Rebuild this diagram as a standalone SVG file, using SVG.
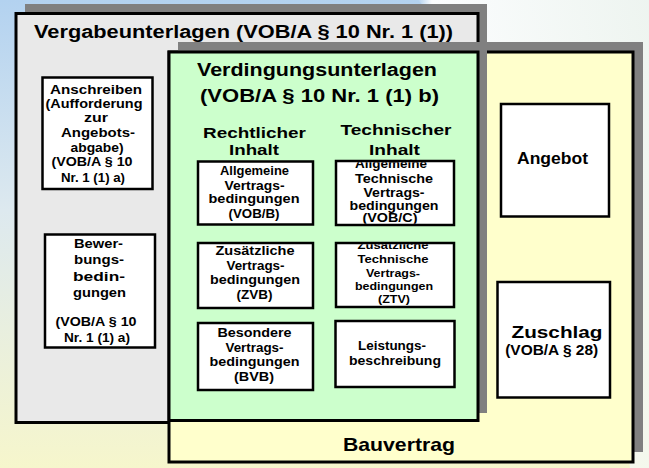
<svg xmlns="http://www.w3.org/2000/svg" width="649" height="468" viewBox="0 0 649 468">
<style>
text{font-family:"Liberation Sans",Arial,sans-serif;font-weight:bold;fill:#000;text-anchor:middle}
.shadow{fill:#808080}
.big{stroke:#000;stroke-width:3}
.box{fill:#fff;stroke:#000;stroke-width:2.5}
.t18{font-size:17.5px}
.t14{font-size:14.5px}
.t12{font-size:13px}
.t11{font-size:12px}
.t10{font-size:10.5px}
</style>
<defs>
<linearGradient id="bg" x1="0" y1="0" x2="0" y2="1">
<stop offset="0" stop-color="#b3d2f0"/>
<stop offset="0.45" stop-color="#dde9ef"/>
<stop offset="1" stop-color="#f6f6cc"/>
</linearGradient>
<linearGradient id="wh" x1="0" y1="0" x2="1" y2="0">
<stop offset="0" stop-color="#ffffff" stop-opacity="0"/>
<stop offset="0.06" stop-color="#ffffff" stop-opacity="0.95"/>
<stop offset="1" stop-color="#f4f8f0" stop-opacity="0.9"/>
</linearGradient>
<clipPath id="cD"><rect x="337.3" y="162.3" width="115.5" height="61.5"/></clipPath>
<clipPath id="cE"><rect x="337.3" y="244.3" width="115.5" height="61.5"/></clipPath>
</defs>
<rect x="0" y="0" width="649" height="468" fill="url(#bg)"/>
<polygon points="418,0 649,0 649,468 630,468 600,200" fill="url(#wh)"/>

<g id="vergabeunterlagen">
<rect class="shadow" x="25" y="4" width="462" height="408"/>
<rect class="big" x="16" y="13.5" width="462" height="409" fill="#e9e9e9"/>
<text class="t18" x="243.5" y="37.5" textLength="419" lengthAdjust="spacingAndGlyphs">Vergabeunterlagen (VOB/A § 10 Nr. 1 (1))</text>
</g>

<g id="bauvertrag">
<rect class="shadow" x="178" y="42" width="465" height="410"/>
<rect class="big" x="169" y="52" width="464" height="410" fill="#ffffcc"/>
<text style="font-size:18.5px" x="399" y="450.5" textLength="112" lengthAdjust="spacingAndGlyphs">Bauvertrag</text>
</g>

<g id="verdingungsunterlagen">
<rect class="shadow" x="178" y="42" width="309" height="371"/>
<rect class="big" x="169" y="52" width="309" height="368.5" fill="#ccffcc"/>
<text class="t18" x="317" y="76" textLength="240" lengthAdjust="spacingAndGlyphs">Verdingungsunterlagen</text>
<text class="t18" x="319.5" y="101.5" textLength="239" lengthAdjust="spacingAndGlyphs">(VOB/A § 10 Nr. 1 (1) b)</text>
<text class="t14" x="254.5" y="137.7" textLength="103" lengthAdjust="spacingAndGlyphs">Rechtlicher</text>
<text class="t14" x="254" y="155" textLength="50" lengthAdjust="spacingAndGlyphs">Inhalt</text>
<text class="t14" x="396" y="135" textLength="111" lengthAdjust="spacingAndGlyphs">Technischer</text>
<text class="t14" x="394.5" y="155" textLength="51" lengthAdjust="spacingAndGlyphs">Inhalt</text>
</g>

<g id="anschreiben">
<rect class="box" x="42.5" y="77.5" width="110" height="111.5"/>
<text class="t12" x="96" y="93.5" textLength="92" lengthAdjust="spacingAndGlyphs">Anschreiben</text>
<text class="t12" x="94" y="107.5" textLength="97" lengthAdjust="spacingAndGlyphs">(Aufforderung</text>
<text class="t12" x="96" y="121.5" textLength="24" lengthAdjust="spacingAndGlyphs">zur</text>
<text class="t12" x="98" y="137" textLength="74" lengthAdjust="spacingAndGlyphs">Angebots-</text>
<text class="t12" x="97" y="151.5" textLength="53" lengthAdjust="spacingAndGlyphs">abgabe)</text>
<text class="t12" x="92" y="166" textLength="81" lengthAdjust="spacingAndGlyphs">(VOB/A § 10</text>
<text class="t12" x="93" y="181.5" textLength="64" lengthAdjust="spacingAndGlyphs">Nr. 1 (1) a)</text>
</g>

<g id="bewerbungsbedingungen">
<rect class="box" x="45" y="234.5" width="110" height="113"/>
<text class="t12" x="98.5" y="247.5" textLength="49" lengthAdjust="spacingAndGlyphs">Bewer-</text>
<text class="t12" x="99" y="264" textLength="50" lengthAdjust="spacingAndGlyphs">bungs-</text>
<text class="t12" x="99" y="280.5" textLength="52" lengthAdjust="spacingAndGlyphs">bedin-</text>
<text class="t12" x="99.5" y="297" textLength="53" lengthAdjust="spacingAndGlyphs">gungen</text>
<text class="t12" x="96" y="326" textLength="81" lengthAdjust="spacingAndGlyphs">(VOB/A § 10</text>
<text class="t12" x="97" y="341.7" textLength="66" lengthAdjust="spacingAndGlyphs">Nr. 1 (1) a)</text>
</g>

<g id="vob-b">
<rect class="box" x="198" y="161.5" width="115" height="63"/>
<text class="t12" x="254.5" y="175" textLength="69" lengthAdjust="spacingAndGlyphs">Allgemeine</text>
<text class="t12" x="254.5" y="189.5" textLength="60" lengthAdjust="spacingAndGlyphs">Vertrags-</text>
<text class="t12" x="254" y="203.3" textLength="91" lengthAdjust="spacingAndGlyphs">bedingungen</text>
<text class="t12" x="254" y="218.3" textLength="51" lengthAdjust="spacingAndGlyphs">(VOB/B)</text>
</g>

<g id="zvb">
<rect class="box" x="198" y="243" width="115" height="65"/>
<text class="t12" x="255" y="255" textLength="79" lengthAdjust="spacingAndGlyphs">Zusätzliche</text>
<text class="t12" x="255.5" y="270" textLength="58" lengthAdjust="spacingAndGlyphs">Vertrags-</text>
<text class="t12" x="255" y="284" textLength="90" lengthAdjust="spacingAndGlyphs">bedingungen</text>
<text class="t12" x="254.5" y="299" textLength="36" lengthAdjust="spacingAndGlyphs">(ZVB)</text>
</g>

<g id="bvb">
<rect class="box" x="198" y="323" width="115" height="67"/>
<text class="t12" x="254.5" y="336.7" textLength="74" lengthAdjust="spacingAndGlyphs">Besondere</text>
<text class="t12" x="254.5" y="351.7" textLength="58" lengthAdjust="spacingAndGlyphs">Vertrags-</text>
<text class="t12" x="254.5" y="366" textLength="90" lengthAdjust="spacingAndGlyphs">bedingungen</text>
<text class="t12" x="254" y="381" textLength="40" lengthAdjust="spacingAndGlyphs">(BVB)</text>
</g>

<g id="vob-c">
<rect class="box" x="336" y="161" width="118" height="64"/>
<g clip-path="url(#cD)">
<text class="t11" x="391" y="168" textLength="72" lengthAdjust="spacingAndGlyphs">Allgemeine</text>
<text class="t11" x="394" y="182.5" textLength="78" lengthAdjust="spacingAndGlyphs">Technische</text>
<text class="t11" x="394" y="196.5" textLength="61" lengthAdjust="spacingAndGlyphs">Vertrags-</text>
<text class="t11" x="394" y="209.5" textLength="89" lengthAdjust="spacingAndGlyphs">bedingungen</text>
<text class="t11" x="390" y="222" textLength="55" lengthAdjust="spacingAndGlyphs">(VOB/C)</text>
</g>
</g>

<g id="ztv">
<rect class="box" x="336" y="243" width="118" height="64"/>
<g clip-path="url(#cE)">
<text class="t10" x="393" y="249.3" textLength="71" lengthAdjust="spacingAndGlyphs">Zusätzliche</text>
<text class="t10" x="393" y="263.3" textLength="71" lengthAdjust="spacingAndGlyphs">Technische</text>
<text class="t10" x="393" y="276.7" textLength="54" lengthAdjust="spacingAndGlyphs">Vertrags-</text>
<text class="t10" x="394" y="290" textLength="78" lengthAdjust="spacingAndGlyphs">bedingungen</text>
<text class="t10" x="394" y="302.7" textLength="32" lengthAdjust="spacingAndGlyphs">(ZTV)</text>
</g>
</g>

<g id="leistungsbeschreibung">
<rect class="box" x="335.5" y="321" width="119" height="66"/>
<text class="t12" x="392" y="350" textLength="68" lengthAdjust="spacingAndGlyphs">Leistungs-</text>
<text class="t12" x="395" y="365" textLength="92" lengthAdjust="spacingAndGlyphs">beschreibung</text>
</g>

<g id="angebot">
<rect class="box" x="501" y="104" width="108" height="112.5"/>
<text style="font-size:16.5px" x="552.5" y="164" textLength="71" lengthAdjust="spacingAndGlyphs">Angebot</text>
</g>

<g id="zuschlag">
<rect class="box" x="497.5" y="282" width="112.5" height="115.5"/>
<text style="font-size:16.5px" x="557" y="337.7" textLength="91" lengthAdjust="spacingAndGlyphs">Zuschlag</text>
<text style="font-size:14px" x="551.7" y="355" textLength="93" lengthAdjust="spacingAndGlyphs">(VOB/A § 28)</text>
</g>

<g id="connectors"></g>
</svg>
